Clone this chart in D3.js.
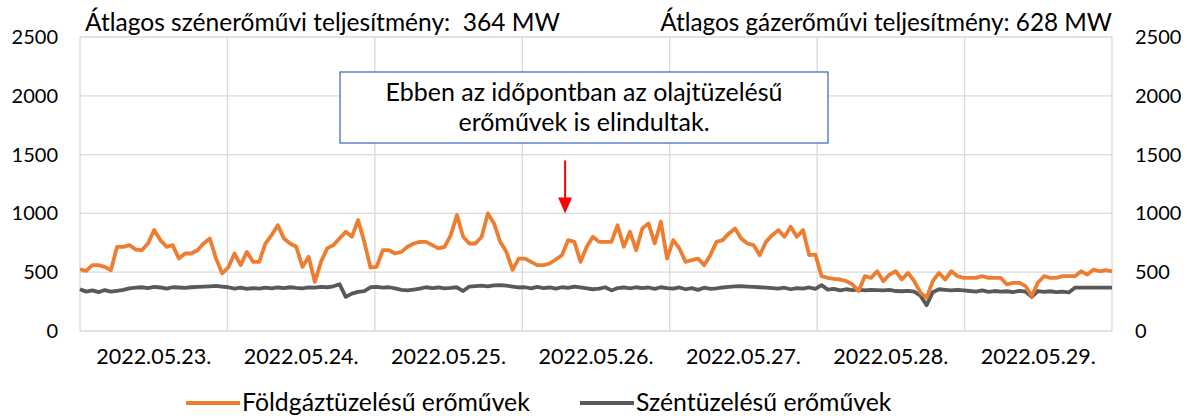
<!DOCTYPE html>
<html><head><meta charset="utf-8">
<script src="https://cdn.jsdelivr.net/npm/d3@7/dist/d3.min.js"></script>
<style>body{margin:0;background:#fff}svg{display:block}text{font-family:Lato,"Open Sans",sans-serif;fill:#000;white-space:pre}</style>
</head><body><svg id="c" width="1187" height="416"></svg>
<script>
const days = ["2022.05.23.","2022.05.24.","2022.05.25.","2022.05.26.","2022.05.27.","2022.05.28.","2022.05.29."];
const yTicks = [0,500,1000,1500,2000,2500];
const gasLabel = "Földgáztüzelésű erőművek";
const coalLabel = "Széntüzelésű erőművek";
const titleCoal = "Átlagos szénerőművi teljesítmény:  364 MW";
const titleGas = "Átlagos gázerőművi teljesítmény: 628 MW";
const noteLines = ["Ebben az időpontban az olajtüzelésű","erőművek is elindultak."];
// hourly values, MW
const gas = [
 525,511,560,560,545,517,716,716,730,693,687,744,858,773,716,730,616,659,659,687,744,787,620,490,
 540,659,560,673,588,588,744,815,900,787,744,716,545,631,418,588,702,730,787,844,801,943,760,540,
 545,687,687,659,673,716,744,758,758,730,702,716,815,986,801,744,744,801,1000,915,758,673,520,616,
 616,588,560,560,574,608,645,773,758,588,716,801,758,758,758,900,716,844,687,872,915,744,929,616,
 773,702,588,602,616,560,645,758,773,830,872,787,744,730,645,758,815,858,801,886,801,858,645,650,
 466,452,444,438,424,396,340,466,452,508,424,480,508,438,494,424,326,284,424,494,438,508,466,452,
 452,452,466,452,452,452,396,410,410,382,298,410,466,452,452,466,466,466,508,480,522,508,517,508
];
const coal = [
 355,335,345,330,348,335,342,350,362,368,372,365,375,370,360,372,370,366,372,376,378,380,383,378,
 372,360,368,358,365,360,368,362,370,365,372,366,362,370,368,375,372,380,398,290,318,332,340,372,
 375,368,372,362,350,345,352,360,372,365,370,362,366,372,340,378,382,385,380,388,390,385,378,370,
 372,362,375,365,370,360,372,366,378,370,362,355,360,372,345,365,370,362,372,365,370,358,372,365,
 360,370,355,365,350,368,358,362,370,375,380,382,378,375,372,368,365,360,368,355,365,360,370,358,
 390,352,358,345,355,348,352,345,350,348,345,350,340,338,342,335,300,220,330,355,350,345,350,345,
 340,335,345,332,340,335,338,330,342,335,290,340,332,338,330,335,328,368,368,368,368,368,368,368
];
const arrowAt = {idx:78.5, from:1450, to:1000};

const svg = d3.select("#c");
const L=80,R=1112,T=37,B=331;
const x = d3.scaleLinear().domain([0,gas.length-1]).range([L,R]);
const xd = d3.scaleBand().domain(days).range([L,R]);
const y = d3.scaleLinear().domain([0,2500]).range([B,T]);
const grid = "#d9d9d9";

// fit a text selection to a target pixel width by adjusting font size
function fit(sel, target){
  sel.each(function(){
    const fs = +this.getAttribute("font-size");
    const w = this.getComputedTextLength();
    if (w>0) this.setAttribute("font-size", (fs*target/w).toFixed(2));
  });
}

svg.append("g").selectAll("line").data(yTicks).join("line")
 .attr("x1",L).attr("x2",R).attr("y1",d=>y(d)).attr("y2",d=>y(d))
 .attr("stroke",grid).attr("stroke-width",1.3);
const vb = days.map(d=>xd(d)).concat([R]);
svg.append("g").selectAll("line").data(vb).join("line")
 .attr("x1",d=>d).attr("x2",d=>d).attr("y1",T).attr("y2",B)
 .attr("stroke",grid).attr("stroke-width",1.3);

const fmt = d3.format("d");
const yl = d3.axisLeft(y).tickValues(yTicks).tickFormat(fmt).tickSize(0).tickPadding(0);
const gl = svg.append("g").attr("transform",`translate(58,0)`).call(yl);
const yr = d3.axisRight(y).tickValues(yTicks).tickFormat(fmt).tickSize(0).tickPadding(0);
const gr = svg.append("g").attr("transform",`translate(1135,0)`).call(yr);
const xa = d3.axisBottom(xd).tickSize(0).tickPadding(0);
const gx = svg.append("g").attr("transform",`translate(0,${B+14})`).call(xa);
[gl,gr,gx].forEach(g=>{g.select(".domain").remove();g.selectAll("text").attr("font-size",20).attr("font-family","Lato").attr("fill","#000");});
gx.selectAll("text").attr("dy","0.9em");
fit(gx.selectAll("text"),115);

const line = d3.line().x((d,i)=>x(i)).y(d=>y(d)).curve(d3.curveLinear);
svg.append("path").datum(coal).attr("d",line).attr("fill","none").attr("stroke","#595959").attr("stroke-width",3.8).attr("stroke-linejoin","round");
svg.append("path").datum(gas).attr("d",line).attr("fill","none").attr("stroke","#ED7D31").attr("stroke-width",3.8).attr("stroke-linejoin","round");

const t1 = svg.append("text").attr("x",85).attr("y",31).attr("font-size",21).text(titleCoal);
fit(t1,475);
const t2 = svg.append("text").attr("x",1112).attr("y",31).attr("font-size",21).attr("text-anchor","end").text(titleGas);
fit(t2,452);

svg.append("rect").attr("x",340).attr("y",72).attr("width",488).attr("height",71)
 .attr("fill","#fff").attr("stroke","#4472C4").attr("stroke-width",1.3);
const nt = svg.selectAll(".note").data(noteLines).join("text").attr("class","note")
 .attr("x",584).attr("y",(d,i)=>101+i*30).attr("text-anchor","middle").attr("font-size",21).text(d=>d);
fit(nt.filter((d,i)=>i===0),397);
nt.filter((d,i)=>i===1).attr("font-size", nt.filter((d,i)=>i===0).attr("font-size"));

const ax = x(arrowAt.idx);
svg.append("line").attr("x1",ax).attr("x2",ax).attr("y1",y(arrowAt.from)).attr("y2",y(arrowAt.to)-14)
 .attr("stroke","#FF0000").attr("stroke-width",2);
svg.append("path").attr("d",`M${ax-7},${y(arrowAt.to)-16}L${ax+7},${y(arrowAt.to)-16}L${ax},${y(arrowAt.to)}Z`).attr("fill","#FF0000");

const leg = [{t:gasLabel,c:"#ED7D31",x:186},{t:coalLabel,c:"#595959",x:580}];
const lg = svg.append("g").selectAll("g").data(leg).join("g");
lg.append("line").attr("x1",d=>d.x).attr("x2",d=>d.x+54).attr("y1",403).attr("y2",403).attr("stroke",d=>d.c).attr("stroke-width",3.8);
const ltx = lg.append("text").attr("x",d=>d.x+56).attr("y",411).attr("font-size",22).text(d=>d.t);
fit(ltx.filter((d,i)=>i===0),288);
ltx.filter((d,i)=>i===1).attr("font-size", ltx.filter((d,i)=>i===0).attr("font-size"));
</script></body></html>
